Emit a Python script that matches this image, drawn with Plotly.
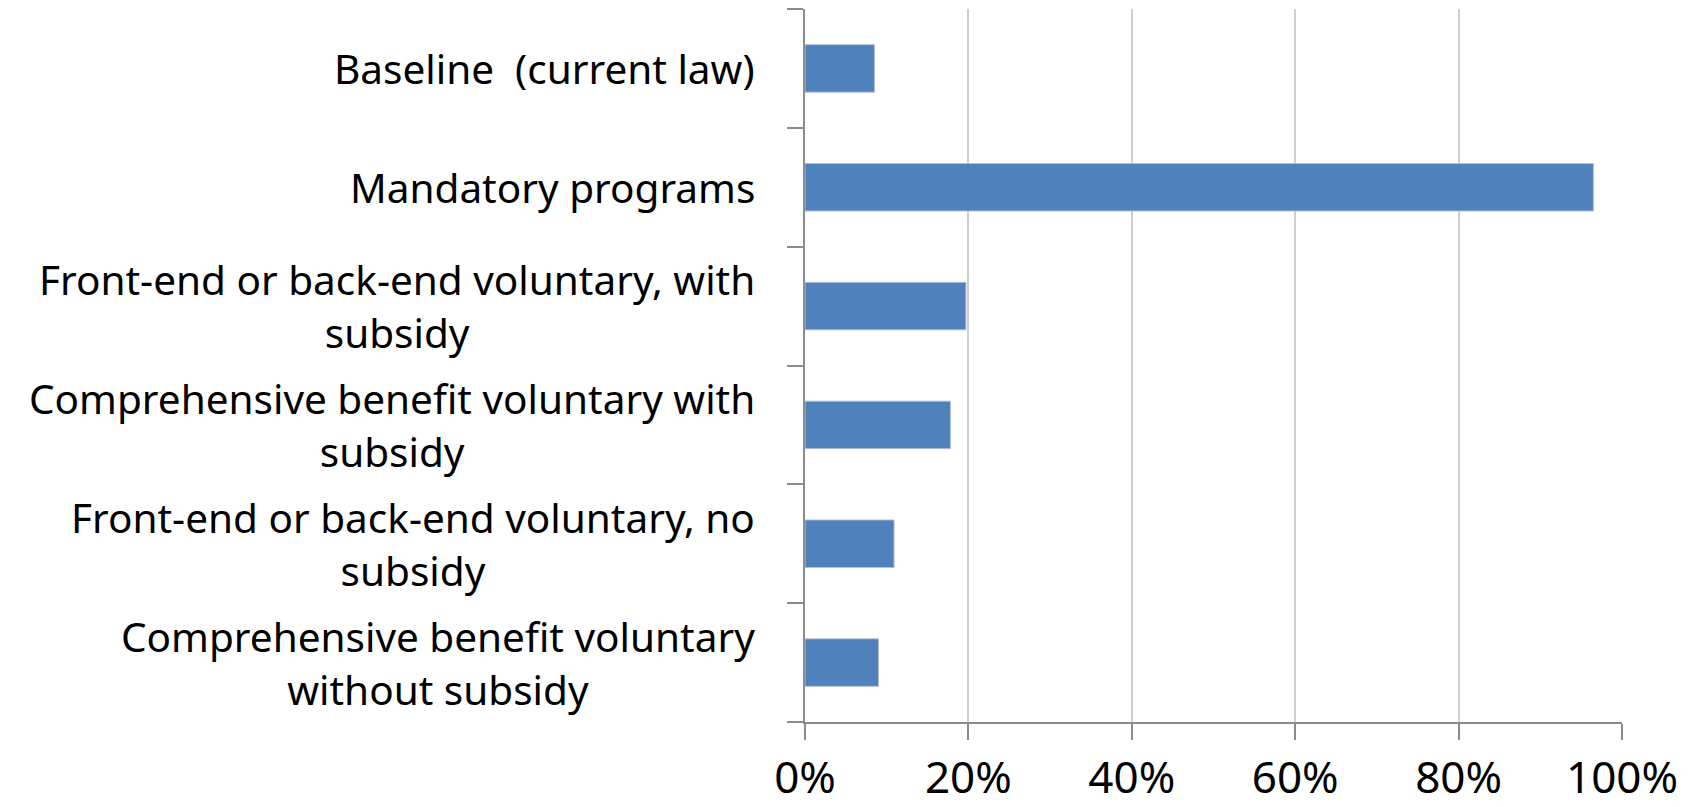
import plotly.graph_objects as go

# Data
categories = [
    "Baseline\u00a0 (current law)",
    "Mandatory programs",
    "Front-end or back-end voluntary, with<br>subsidy",
    "Comprehensive benefit voluntary with<br>subsidy",
    "Front-end or back-end voluntary, no<br>subsidy",
    "Comprehensive benefit voluntary<br>without subsidy",
]
shares = [0.085, 0.965, 0.197, 0.178, 0.109, 0.090]
x_ticks = [0, 0.2, 0.4, 0.6, 0.8, 1.0]
x_tick_labels = ["0%", "20%", "40%", "60%", "80%", "100%"]

FONT = "Noto Sans, Lato, sans-serif"
AXIS_GRAY = "#8c8c8c"

fig = go.Figure(
    go.Bar(
        x=shares,
        y=categories,
        orientation="h",
        marker=dict(color="#4f81bd", line=dict(color="#b4c0d0", width=1)),
        width=0.4,
    )
)

# category labels as centred annotations (plotly tick labels can't centre lines)
for cat in categories:
    fig.add_annotation(
        x=-0.0588, xref="paper", xanchor="right",
        y=cat, yref="y", yanchor="middle",
        text=cat, showarrow=False, align="center",
        font=dict(family=FONT, size=40.5, color="#000000"),
    )

# page body has an 8px margin, so the figure is 8px smaller than the window
fig.update_layout(
    width=1684,
    height=799,
    margin=dict(l=797, r=70, t=1, b=80),
    plot_bgcolor="white",
    paper_bgcolor="white",
    showlegend=False,
    bargap=0.6,
)

fig.update_xaxes(
    range=[0, 1.0],
    tickvals=x_ticks,
    ticktext=x_tick_labels,
    showgrid=True,
    gridcolor="#cfcfcf",
    gridwidth=1.5,
    showline=True,
    linecolor=AXIS_GRAY,
    linewidth=2,
    ticks="outside",
    ticklen=16,
    tickwidth=1.5,
    tickcolor=AXIS_GRAY,
    tickfont=dict(family=FONT, size=44, color="#000000"),
    zeroline=False,
    fixedrange=True,
)

fig.update_yaxes(
    categoryorder="array",
    categoryarray=categories[::-1],
    showticklabels=False,
    showgrid=False,
    showline=True,
    linecolor=AXIS_GRAY,
    linewidth=2,
    ticks="outside",
    tickson="boundaries",
    ticklen=16,
    tickwidth=1.5,
    tickcolor=AXIS_GRAY,
    zeroline=False,
    fixedrange=True,
)

fig.write_html("out.html")
